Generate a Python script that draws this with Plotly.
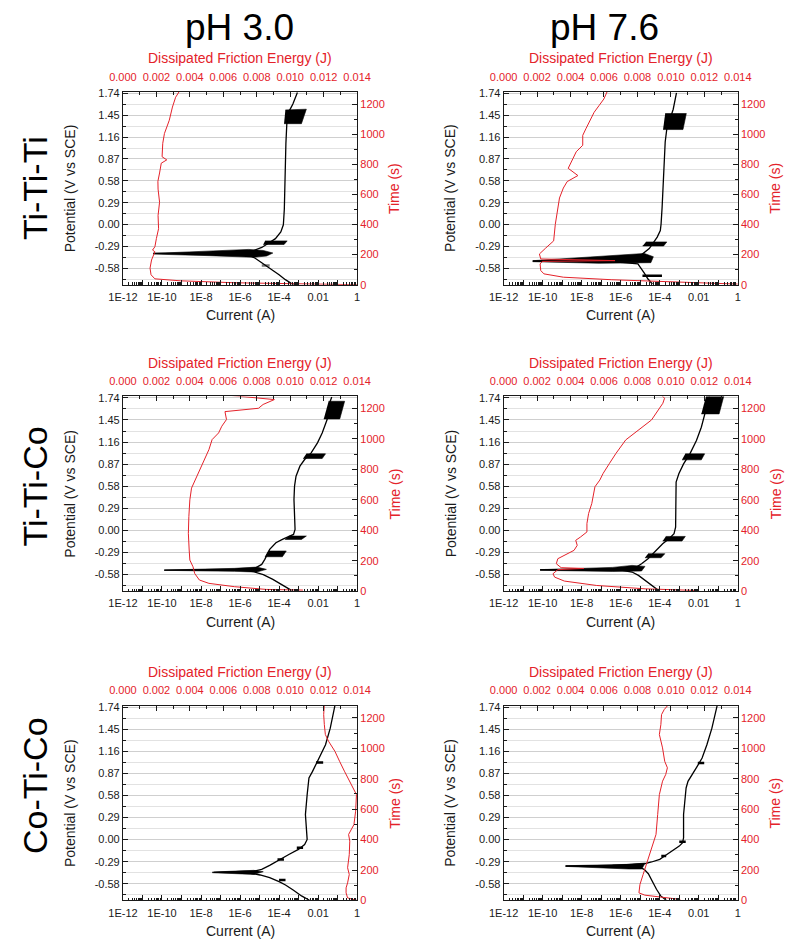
import plotly.graph_objects as go

# ---------------- data ----------------
# Panel A : Ti-Ti-Ti, pH 3.0
a_current = [5.5e-4, 2.1e-4, 1.0e-4, 4.0e-5, 1.55e-5, 6.0e-6, 2.8e-6, 5.2e-7, 3.5e-11, 5.2e-7, 4.2e-6,
             1.3e-5, 2.7e-5, 6.5e-5, 1.23e-4, 1.66e-4, 1.86e-4, 2.0e-4, 2.24e-4, 2.5e-4, 3.4e-4, 5.1e-4, 8.7e-4]
a_potential = [-0.80, -0.733, -0.667, -0.593, -0.515, -0.449, -0.406, -0.388, -0.384, -0.375, -0.353,
               -0.305, -0.253, -0.188, -0.100, -0.004, 0.205, 0.641, 1.077, 1.339, 1.513, 1.600, 1.753]
a_energy = [0.0140, 0.01048, 0.00667, 0.00343, 0.00191, 0.00168, 0.00162, 0.00171, 0.00191, 0.00177, 0.00191,
            0.00200, 0.00213, 0.00210, 0.00219, 0.00210, 0.00209, 0.00219, 0.00229, 0.00262, 0.00234, 0.00238,
            0.00248, 0.00277, 0.00296, 0.00315, 0.00335]
a_time = [0, 7, 13, 26, 39, 66, 110, 164, 219, 230, 252, 307, 372, 460, 548, 635, 687, 742, 807, 829, 850, 939,
          1004, 1092, 1180, 1245, 1280]
a_blobs = [
    ([3.5e-11, 2.6e-8, 2.8e-6, 1.55e-5, 4.8e-5, 2.3e-5, 5.0e-6, 2.6e-8, 3.5e-11],
     [-0.384, -0.353, -0.331, -0.345, -0.379, -0.419, -0.436, -0.414, -0.393]),
    ([1.9e-5, 2.6e-4, 1.8e-4, 1.55e-5], [-0.218, -0.218, -0.266, -0.266]),
    ([2.1e-4, 2.5e-3, 1.4e-3, 1.8e-4], [1.522, 1.531, 1.339, 1.339]),
]
a_segments = [([1.3e-5, 3.3e-5], [-0.545, -0.545], "#777777")]

# Panel B : Ti-Ti-Ti, pH 7.6
b_current = [4.2e-5, 2.5e-5, 1.62e-5, 1.1e-5, 7.6e-6, 3.5e-7, 3.1e-11, 3.5e-7, 1.1e-5, 2.9e-5, 4.2e-5,
             7.4e-5, 1.07e-4, 1.17e-4, 1.32e-4, 1.58e-4, 1.9e-4, 2.3e-4, 4.9e-4, 7.2e-4]
b_potential = [-0.790, -0.724, -0.646, -0.581, -0.524, -0.494, -0.485, -0.472, -0.407, -0.320, -0.254,
               -0.167, -0.080, 0.007, 0.225, 0.660, 1.096, 1.270, 1.531, 1.749]
b_energy = [0.0140, 0.01033, 0.00647, 0.00357, 0.00241, 0.00222, 0.00218, 0.00232, 0.00666, 0.00222, 0.00214,
            0.00251, 0.00299, 0.00309, 0.00322, 0.00334, 0.00357, 0.00380, 0.00444, 0.00386, 0.00415, 0.00434,
            0.00473, 0.00473, 0.00492, 0.00512, 0.00541, 0.00570, 0.00599, 0.00618]
b_time = [4, 17, 33, 50, 72, 94, 138, 155, 160, 171, 204, 243, 291, 401, 510, 576, 642, 685, 725, 773, 839,
          883, 926, 992, 1036, 1080, 1145, 1189, 1233, 1280]
b_blobs = [
    ([3.1e-11, 7.8e-8, 1.62e-5, 4.7e-5, 3.5e-5, 7.8e-8, 3.1e-11],
     [-0.481, -0.428, -0.385, -0.428, -0.507, -0.515, -0.494]),
    ([1.95e-5, 2.3e-4, 1.58e-4, 1.32e-5], [-0.232, -0.232, -0.285, -0.285]),
    ([1.9e-4, 2.3e-3, 1.55e-3, 1.48e-4], [1.474, 1.474, 1.261, 1.261]),
]
b_segments = [([1.3e-5, 1.3e-4], [-0.681, -0.681], "black")]

# Panel C : Ti-Ti-Co, pH 3.0
c_current = [4.3e-4, 1.48e-4, 4.8e-5, 1.55e-5, 5.0e-6, 1.12e-6, 1.3e-10, 1.12e-6, 6.0e-6, 1.29e-5, 1.86e-5,
             3.3e-5, 6.9e-5, 1.48e-4, 5.5e-4, 6.6e-4, 6.2e-4, 5.8e-4, 6.2e-4, 7.4e-4, 1.17e-3, 2.04e-3,
             4.4e-3, 9.3e-3, 1.62e-2, 2.9e-2, 4.2e-2, 5.0e-2]
c_potential = [-0.790, -0.720, -0.645, -0.584, -0.545, -0.527, -0.523, -0.514, -0.497, -0.449, -0.383,
               -0.252, -0.164, -0.120, -0.055, 0.011, 0.186, 0.405, 0.580, 0.711, 0.843, 0.930, 1.018,
               1.149, 1.280, 1.456, 1.696, 1.753]
c_energy = [0.01076, 0.00857, 0.00667, 0.00514, 0.00457, 0.00429, 0.00419, 0.00400, 0.00396, 0.00391, 0.00394,
            0.00400, 0.00410, 0.00438, 0.00467, 0.00495, 0.00514, 0.00533, 0.00572, 0.00591, 0.00619, 0.00610,
            0.00810, 0.00838, 0.00905, 0.00800, 0.00629, 0.00324]
c_time = [7, 11, 29, 51, 73, 116, 160, 204, 270, 380, 490, 600, 677, 743, 820, 886, 930, 996, 1040, 1084,
          1128, 1180, 1202, 1227, 1259, 1270, 1288, 1297]
c_blobs = [
    ([1.32e-10, 5.2e-7, 7.2e-6, 2.24e-5, 7.2e-6, 5.2e-7, 1.32e-10],
     [-0.523, -0.501, -0.484, -0.514, -0.549, -0.540, -0.527]),
    ([2.75e-5, 2.34e-4, 1.48e-4, 1.86e-5], [-0.273, -0.273, -0.348, -0.348]),
    ([3.16e-4, 2.5e-3, 1.41e-3, 2.0e-4], [-0.076, -0.076, -0.120, -0.120]),
    ([2.5e-3, 2.4e-2, 1.62e-2, 1.7e-3], [1.005, 1.005, 0.943, 0.943]),
    ([3.47e-2, 0.229, 0.129, 1.95e-2], [1.696, 1.696, 1.464, 1.464]),
]
c_segments = []

# Panel D : Ti-Ti-Co, pH 7.6
d_current = [9.5e-5, 3.7e-5, 1.74e-5, 8.1e-6, 3.8e-6, 1.2e-6, 7.4e-11, 1.2e-6, 5.5e-6, 1.17e-5, 2.5e-5,
             6.6e-5, 1.41e-4, 3.0e-4, 5.4e-4, 6.5e-4, 6.5e-4, 6.9e-4, 9.5e-4, 1.66e-3, 3.5e-3, 7.6e-3,
             1.35e-2, 2.0e-2, 3.5e-2]
d_potential = [-0.799, -0.724, -0.659, -0.593, -0.549, -0.527, -0.519, -0.510, -0.493, -0.440, -0.374,
               -0.265, -0.177, -0.112, -0.046, 0.042, 0.436, 0.633, 0.742, 0.873, 1.005, 1.180, 1.355,
               1.530, 1.757]
d_energy = [0.01164, 0.00846, 0.00556, 0.00363, 0.00305, 0.00295, 0.00324, 0.00479, 0.00344, 0.00315, 0.00324,
            0.00363, 0.00421, 0.00440, 0.00431, 0.00460, 0.00498, 0.00498, 0.00508, 0.00527, 0.00537, 0.00546,
            0.00575, 0.00595, 0.00633, 0.00672, 0.00730, 0.00807, 0.00884, 0.00952, 0.00962, 0.00942]
d_time = [4, 15, 37, 66, 92, 114, 141, 149, 154, 180, 213, 235, 268, 301, 334, 356, 389, 444, 510, 576, 642,
          686, 730, 774, 840, 906, 994, 1059, 1125, 1235, 1268, 1290]
d_blobs = [
    ([7.4e-11, 3.9e-7, 3.8e-6, 1.74e-5, 1.17e-5, 3.9e-7, 7.4e-11],
     [-0.519, -0.488, -0.462, -0.475, -0.536, -0.541, -0.527]),
    ([2.5e-5, 1.82e-4, 1.17e-4, 1.74e-5], [-0.308, -0.308, -0.361, -0.361]),
    ([2.04e-4, 2.04e-3, 1.38e-3, 1.41e-4], [-0.081, -0.081, -0.142, -0.142]),
    ([2.04e-3, 2.0e-2, 1.35e-2, 1.38e-3], [1.005, 1.005, 0.926, 0.926]),
    ([2.4e-2, 0.195, 0.11, 1.35e-2], [1.771, 1.771, 1.530, 1.530]),
]
d_segments = []

# Panel E : Co-Ti-Co, pH 3.0
e_current = [3.6e-3, 1.41e-3, 5.5e-4, 2.14e-4, 1.0e-4, 3.3e-5, 1.07e-5, 3.5e-6, 5.2e-7, 4.6e-8, 5.2e-7,
             5.0e-6, 1.29e-5, 3.3e-5, 1.0e-4, 3.16e-4, 9.8e-4, 2.04e-3, 2.75e-3, 2.5e-3, 2.24e-3, 2.75e-3,
             3.4e-3, 5.2e-3, 8.5e-3, 1.35e-2, 2.4e-2, 4.2e-2, 7.4e-2]
e_potential = [-0.797, -0.740, -0.666, -0.596, -0.553, -0.500, -0.465, -0.444, -0.431, -0.431, -0.422,
               -0.414, -0.392, -0.339, -0.265, -0.195, -0.129, -0.064, 0.002, 0.111, 0.329, 0.591, 0.810,
               0.897, 1.006, 1.116, 1.247, 1.465, 1.771]
e_energy = [0.0140, 0.01343, 0.01334, 0.01334, 0.01343, 0.01353, 0.01343, 0.01353, 0.01356, 0.01349, 0.01381,
            0.01391, 0.01396, 0.01353, 0.01324, 0.01295, 0.01267, 0.01229, 0.01210, 0.01204, 0.01200, 0.01204]
e_time = [0, 17, 50, 83, 116, 171, 215, 302, 390, 434, 499, 587, 696, 784, 850, 915, 981, 1047, 1091, 1156,
          1222, 1288]
e_blobs = [
    ([3.8e-8, 5.0e-6, 1.55e-5, 5.0e-6, 3.8e-8], [-0.426, -0.404, -0.422, -0.457, -0.435]),
]
e_segments = [([1.0e-4, 2.14e-4], [-0.531, -0.531], "black"),
              ([8.3e-5, 1.78e-4], [-0.260, -0.260], "black"),
              ([8.1e-4, 1.7e-3], [-0.107, -0.107], "black"),
              ([7.8e-3, 1.82e-2], [1.015, 1.015], "black")]

# Panel F : Co-Ti-Co, pH 7.6
f_current = [2.14e-4, 1.12e-4, 6.8e-5, 4.2e-5, 2.6e-5, 1.58e-5, 8.3e-6, 3.8e-7, 1.5e-9, 3.8e-7, 8.3e-6,
             1.78e-5, 3.8e-5, 1.0e-4, 1.78e-4, 4.7e-4, 1.0e-3, 1.48e-3, 1.66e-3, 1.66e-3, 1.9e-3, 2.24e-3,
             2.8e-3, 4.7e-3, 8.3e-3, 1.48e-2, 2.6e-2, 4.7e-2, 6.8e-2, 8.9e-2]
f_potential = [-0.797, -0.740, -0.653, -0.544, -0.448, -0.391, -0.360, -0.352, -0.347, -0.338, -0.325,
               -0.316, -0.294, -0.259, -0.216, -0.141, -0.085, -0.041, 0.024, 0.330, 0.504, 0.679, 0.766,
               0.854, 0.963, 1.072, 1.247, 1.465, 1.640, 1.771]
f_energy = [0.01056, 0.00960, 0.00844, 0.00809, 0.00815, 0.00834, 0.00853, 0.00882, 0.00911, 0.00921, 0.00931,
            0.00950, 0.00969, 0.00979, 0.00963, 0.00950, 0.00931, 0.00940, 0.00944, 0.00960, 0.00989]
f_time = [7, 18, 35, 50, 105, 171, 237, 324, 434, 565, 696, 784, 828, 872, 915, 1003, 1091, 1156, 1222,
          1255, 1292]
f_blobs = [
    ([1.5e-9, 2.6e-6, 1.78e-5, 1.2e-5, 2.6e-6, 1.5e-9], [-0.343, -0.325, -0.308, -0.386, -0.386, -0.352]),
]
f_segments = [([1.2e-4, 2.14e-4], [-0.216, -0.216], "black"),
              ([1.0e-3, 2.14e-3], [-0.027, -0.027], "black"),
              ([8.9e-3, 1.9e-2], [1.006, 1.006], "black")]

# tick labels
current_tickvals = [1e-12, 1e-11, 1e-10, 1e-9, 1e-8, 1e-7, 1e-6, 1e-5, 1e-4, 1e-3, 1e-2, 1e-1, 1]
current_ticktext = ["1E-12", "", "1E-10", "", "1E-8", "", "1E-6", "", "1E-4", "", "0.01", "", "1"]
potential_tickvals = [-0.58, -0.29, 0.00, 0.29, 0.58, 0.87, 1.16, 1.45, 1.74]
potential_ticktext = ["-0.58", "-0.29", "0.00", "0.29", "0.58", "0.87", "1.16", "1.45", "1.74"]
column_titles = ["pH 3.0", "pH 7.6"]
row_titles = ["Ti-Ti-Ti", "Ti-Ti-Co", "Co-Ti-Co"]

panels = [
    (a_current, a_potential, a_energy, a_time, a_blobs, a_segments),
    (b_current, b_potential, b_energy, b_time, b_blobs, b_segments),
    (c_current, c_potential, c_energy, c_time, c_blobs, c_segments),
    (d_current, d_potential, d_energy, d_time, d_blobs, d_segments),
    (e_current, e_potential, e_energy, e_time, e_blobs, e_segments),
    (f_current, f_potential, f_energy, f_time, f_blobs, f_segments),
]

# ---------------- layout geometry (screen pixels) ----------------
W, H = 800, 947
col_px = [(112, 355), (507, 750)]
row_px = [(88, 283), (396, 593), (709, 906)]
RED = "#e4222a"
INK = "#1a1a1a"
FONT = "Liberation Sans, Arial, sans-serif"


def px(x):
    return x / W


def py(y):
    return 1 - y / H


minor_current = [m * 10 ** e for e in range(-12, 0) for m in range(2, 10)]
minor_potential = [-0.725, -0.435, -0.145, 0.145, 0.435, 0.725, 1.015, 1.305, 1.595]

fig = go.Figure()
layout = dict(width=W, height=H, margin=dict(l=0, r=0, t=0, b=0),
              paper_bgcolor="white", plot_bgcolor="white", showlegend=False,
              font=dict(family=FONT, color=INK))
annotations = []


def ax_name(n):
    return "" if n == 1 else str(n)


for k, (cur, pot, en, tm, blobs, segs) in enumerate(panels):
    r, c = divmod(k, 2)
    x0, x1 = col_px[c]
    y0, y1 = row_px[r]
    xd = [px(x0), px(x1)]
    yd = [py(y1), py(y0)]
    n1, n2 = 2 * k + 1, 2 * k + 2
    xa, ya, xb, yb = "x" + ax_name(n1), "y" + ax_name(n1), "x" + ax_name(n2), "y" + ax_name(n2)

    for bx, by in blobs:
        fig.add_trace(go.Scatter(x=bx, y=by, xaxis=xa, yaxis=ya, mode="lines", fill="toself",
                                 fillcolor="black", line=dict(color="black", width=0.6), hoverinfo="skip"))
    for sx, sy, scol in segs:
        fig.add_trace(go.Scatter(x=sx, y=sy, xaxis=xa, yaxis=ya, mode="lines",
                                 line=dict(color=scol, width=2.5), hoverinfo="skip"))
    fig.add_trace(go.Scatter(x=cur, y=pot, xaxis=xa, yaxis=ya, mode="lines",
                             line=dict(color="black", width=1.3)))
    fig.add_trace(go.Scatter(x=en, y=tm, xaxis=xb, yaxis=yb, mode="lines",
                             line=dict(color=RED, width=1.0)))

    common = dict(showline=True, linecolor=INK, linewidth=1, ticks="inside", ticklen=5,
                  tickcolor=INK, zeroline=False, fixedrange=True)
    layout["xaxis" + ax_name(n1)] = dict(
        type="log", domain=xd, anchor=ya, range=[-12, 0], tickmode="array",
        tickvals=current_tickvals, ticktext=current_ticktext, showgrid=False,
        tickfont=dict(size=11, color=INK), ticklabelstandoff=2,
        minor=dict(tickmode="array", tickvals=minor_current, ticks="inside", ticklen=2.5, tickcolor=INK),
        **common)
    layout["xaxis" + ax_name(n2)] = dict(
        domain=xd, anchor=ya, overlaying=xa, side="top", range=[0, 0.014], tickmode="linear",
        tick0=0, dtick=0.002, tickformat=".3f", showgrid=False, ticklabelstandoff=6,
        tickfont=dict(size=11, color=RED),
        minor=dict(dtick=0.001, ticks="inside", ticklen=3, tickcolor=INK), **common)
    layout["yaxis" + ax_name(n1)] = dict(
        domain=yd, anchor=xa, range=[-0.8, 1.76], tickmode="array", tickvals=potential_tickvals,
        ticktext=potential_ticktext, showgrid=True, gridcolor="#cfcfcf", gridwidth=1,
        tickfont=dict(size=11, color=INK),
        minor=dict(tickmode="array", tickvals=minor_potential, ticks="inside", ticklen=3,
                   tickcolor=INK, showgrid=True, gridcolor="#e2e2e2", gridwidth=1), **common)
    layout["yaxis" + ax_name(n2)] = dict(
        domain=yd, anchor=xa, overlaying=ya, side="right", range=[0, 1280], tickmode="linear",
        tick0=0, dtick=200, showgrid=False, tickfont=dict(size=11, color=RED),
        minor=dict(dtick=100, ticks="inside", ticklen=3, tickcolor=INK), **common)

    xc = (x0 + x1) / 2
    yc = (y0 + y1) / 2
    annotations += [
        dict(text="Potential (V vs SCE)", x=px(x0 - 55), y=py(yc), textangle=-90,
             font=dict(size=14, color=INK)),
        dict(text="Current (A)", x=px(xc), y=py(y1 + 31), font=dict(size=14, color=INK)),
        dict(text="Dissipated Friction Energy (J)", x=px(xc), y=py(y0 - 34),
             font=dict(size=14, color=RED)),
        dict(text="Time (s)", x=px(x1 + 39), y=py(yc), textangle=-90,
             font=dict(size=14, color=RED)),
    ]

for c, t in enumerate(column_titles):
    xc = [233, 612][c]
    annotations.append(dict(text=t, x=px(xc), y=1, yanchor="top", font=dict(size=37, color="black")))
for r, t in enumerate(row_titles):
    yc = [185, 487, 790][r]
    annotations.append(dict(text=t, x=px(21), y=py(yc), textangle=-90,
                            font=dict(size=34, color="black")))

for a in annotations:
    a.setdefault("yanchor", "middle")
    a.update(xref="paper", yref="paper", showarrow=False, xanchor="center")
layout["annotations"] = annotations
fig.update_layout(**layout)
# the page body otherwise adds an 8px margin around the plot
fig.write_html("out.html", config={"displayModeBar": False, "staticPlot": True},
               post_script="document.body.style.margin='0px';")
